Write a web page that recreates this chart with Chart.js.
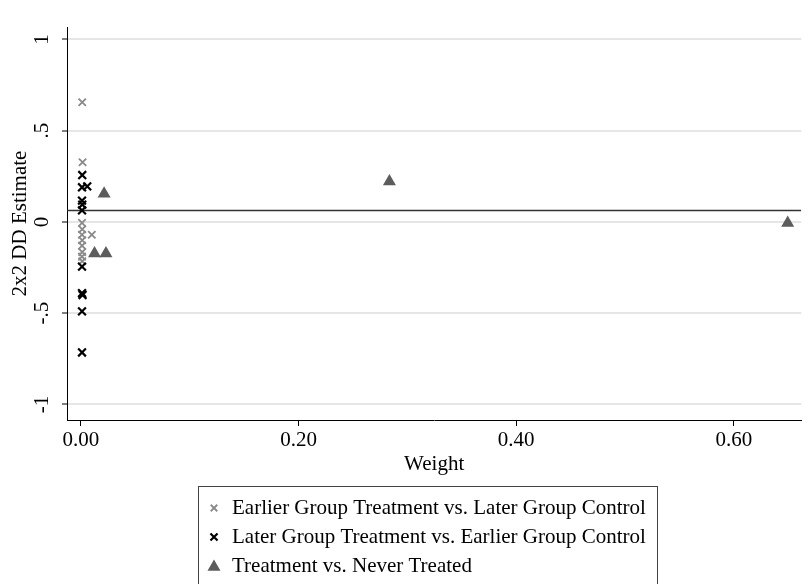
<!DOCTYPE html>
<html>
<head>
<meta charset="utf-8">
<script src="https://cdn.jsdelivr.net/npm/chart.js@4.4.1/dist/chart.umd.min.js"></script>
<style>
  html, body { margin: 0; padding: 0; background: #ffffff; }
  #wrap { width: 809px; height: 584px; position: relative; }
</style>
</head>
<body>
<div id="wrap"><canvas id="c" width="809" height="584"></canvas></div>
<script>
// Goodman-Bacon decomposition: 2x2 DD estimates against their weights
const seriesLabels = [
  'Earlier Group Treatment vs. Later Group Control',
  'Later Group Treatment vs. Earlier Group Control',
  'Treatment vs. Never Treated'
];

const earlierWeight   = [0.0012, 0.0015, 0.0010, 0.0012, 0.0010, 0.0012, 0.0010, 0.0012, 0.0010, 0.0012, 0.0100];
const earlierEstimate = [0.656, 0.327, -0.005, -0.040, -0.070, -0.100, -0.130, -0.165, -0.190, -0.215, -0.070];

const laterWeight   = [0.0012, 0.0010, 0.0058, 0.0010, 0.0012, 0.0010, 0.0010, 0.0010, 0.0015, 0.0010, 0.0010];
const laterEstimate = [0.257, 0.190, 0.195, 0.117, 0.095, 0.063, -0.245, -0.390, -0.400, -0.490, -0.715];

const neverWeight   = [0.0213, 0.0125, 0.0230, 0.2835, 0.6495];
const neverEstimate = [0.155, -0.173, -0.173, 0.222, -0.006];

const overallEstimate = 0.063;

const xTickValues = [0, 0.2, 0.4, 0.6];
const xTickLabels = ['0.00', '0.20', '0.40', '0.60'];
const yTickValues = [-1, -0.5, 0, 0.5, 1];
const yTickLabels = ['-1', '-.5', '0', '.5', '1'];
const xRange = [-0.0128, 0.662];
const yRange = [-1.085, 1.068];

const pair = (xs, ys) => xs.map((x, i) => ({ x: x, y: ys[i] }));

const serifStack = '"Liberation Serif", "Times New Roman", serif';
Chart.defaults.font.family = serifStack;
Chart.defaults.font.size = 21;
Chart.defaults.color = '#000000';

function markerFallback(ctx, style, r, x, y) {
  ctx.beginPath();
  if (style === 'triangle') {
    for (let k = 0; k < 3; k++) {
      const a = k * 2 * Math.PI / 3;
      const px = x + Math.sin(a) * r, py = y - Math.cos(a) * r;
      if (k === 0) ctx.moveTo(px, py); else ctx.lineTo(px, py);
    }
    ctx.closePath();
    ctx.fill();
  } else {
    const d = Math.cos(Math.PI / 4) * r;
    ctx.moveTo(x - d, y - d); ctx.lineTo(x + d, y + d);
    ctx.moveTo(x + d, y - d); ctx.lineTo(x - d, y + d);
    ctx.stroke();
  }
}

// Boxed legend below the plot, one series per row
const boxedLegend = {
  id: 'boxedLegend',
  afterDraw(chart) {
    const ctx = chart.ctx;
    ctx.save();
    ctx.strokeStyle = '#444444';
    ctx.lineWidth = 1;
    ctx.strokeRect(198.5, 486.5, 459, 110);
    ctx.font = '21px ' + serifStack;
    ctx.textBaseline = 'middle';
    ctx.textAlign = 'left';
    const items = chart.data.datasets.filter(d => d.legendRow !== undefined);
    items.forEach(ds => {
      const y = 507 + ds.legendRow * 29;
      const r = ds.legendRadius;
      const my = ds.pointStyle === 'triangle' ? y + 2 : y + 1;
      ctx.fillStyle = ds.pointBackgroundColor;
      ctx.strokeStyle = ds.pointBorderColor;
      ctx.lineWidth = ds.pointBorderWidth;
      if (Chart.helpers && Chart.helpers.drawPoint) {
        Chart.helpers.drawPoint(ctx, { pointStyle: ds.pointStyle, radius: r, rotation: 0, borderWidth: ds.pointBorderWidth }, 214, my);
      } else {
        markerFallback(ctx, ds.pointStyle, r, 214, my);
      }
      ctx.fillStyle = '#000000';
      ctx.fillText(ds.label, 232, y + 1);
    });
    ctx.restore();
  }
};

new Chart(document.getElementById('c'), {
  type: 'scatter',
  data: {
    datasets: [
      {
        label: 'Overall DD estimate',
        type: 'line',
        data: [{ x: xRange[0], y: overallEstimate }, { x: xRange[1], y: overallEstimate }],
        borderColor: '#333333',
        borderWidth: 1.6,
        pointRadius: 0,
        showLine: true,
        order: 5
      },
      {
        label: seriesLabels[0],
        data: pair(earlierWeight, earlierEstimate),
        pointStyle: 'crossRot',
        pointRadius: 5.2,
        pointBorderWidth: 1.8,
        pointBorderColor: '#8a8a8a',
        pointBackgroundColor: '#8a8a8a',
        legendRow: 0,
        legendRadius: 4.6,
        order: 3
      },
      {
        label: seriesLabels[1],
        data: pair(laterWeight, laterEstimate),
        pointStyle: 'crossRot',
        pointRadius: 5.5,
        pointBorderWidth: 2.2,
        pointBorderColor: '#000000',
        pointBackgroundColor: '#000000',
        legendRow: 1,
        legendRadius: 5,
        order: 2
      },
      {
        label: seriesLabels[2],
        data: pair(neverWeight, neverEstimate),
        pointStyle: 'triangle',
        pointRadius: 7.5,
        pointBorderWidth: 0,
        pointBorderColor: '#5c5c5c',
        pointBackgroundColor: '#5c5c5c',
        legendRow: 2,
        legendRadius: 7.5,
        order: 1
      }
    ]
  },
  options: {
    responsive: false,
    animation: false,
    events: [],
    layout: { padding: { top: 27, right: 6, bottom: 106, left: 0 } },
    plugins: { legend: { display: false }, tooltip: { enabled: false } },
    scales: {
      x: {
        type: 'linear',
        min: xRange[0],
        max: xRange[1],
        afterBuildTicks: s => { s.ticks = xTickValues.map(v => ({ value: v })); },
        afterFit: s => { s.height = 58; },
        ticks: {
          padding: 2,
          maxRotation: 0,
          callback: (v) => xTickLabels[xTickValues.indexOf(v)] ?? ''
        },
        grid: { drawOnChartArea: false, drawTicks: true, tickLength: 6, tickColor: '#000000', tickWidth: 1 },
        border: { display: true, color: '#000000', width: 1 },
        title: { display: true, text: 'Weight', padding: { top: 0, bottom: 1 } }
      },
      y: {
        type: 'linear',
        min: yRange[0],
        max: yRange[1],
        afterBuildTicks: s => { s.ticks = yTickValues.map(v => ({ value: v })); },
        afterFit: s => { s.width = 67; },
        ticks: {
          minRotation: 90,
          maxRotation: 90,
          crossAlign: 'center',
          padding: 8,
          callback: (v) => yTickLabels[yTickValues.indexOf(v)] ?? ''
        },
        grid: { color: '#e6e6e6', lineWidth: 2, drawTicks: true, tickLength: 5, tickColor: '#000000', tickWidth: 1 },
        border: { display: true, color: '#000000', width: 1 },
        title: { display: true, text: '2x2 DD Estimate', padding: { top: 8, bottom: 0 } }
      }
    }
  },
  plugins: [boxedLegend]
});
</script>
</body>
</html>
